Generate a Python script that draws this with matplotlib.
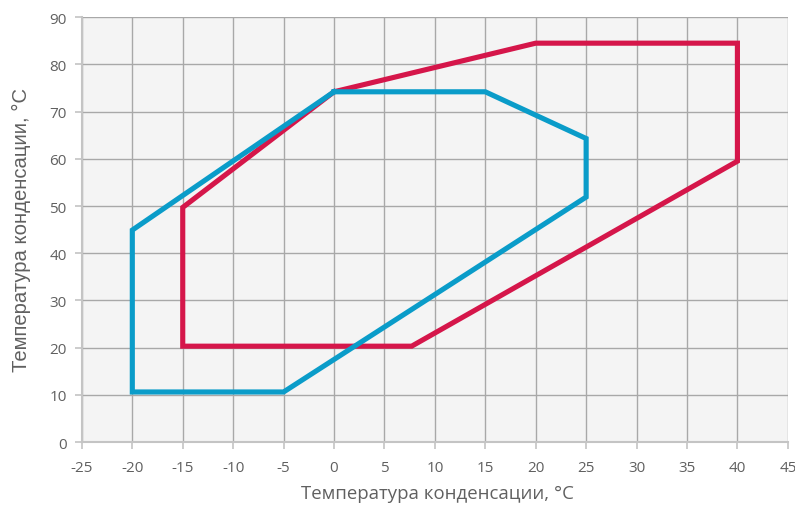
import matplotlib.pyplot as plt

# envelope corners (evaporation vs condensation, °C)
red_x = [0, 20, 40, 40, 7.7, -15, -15, 0]
red_y = [74.2, 84.5, 84.5, 59.5, 20.3, 20.3, 49.7, 74.2]

blue_x = [0, 15, 25, 25, -5, -20, -20, 0]
blue_y = [74.2, 74.2, 64.3, 51.9, 10.6, 10.6, 44.9, 74.2]

x_ticks = list(range(-25, 50, 5))
y_ticks = list(range(0, 100, 10))
axis_label = 'Температура конденсации, °C'

plt.rcParams['font.family'] = ['Open Sans', 'DejaVu Sans']

fig = plt.figure(figsize=(7.95, 5.06), dpi=100)
ax = fig.add_axes([0.103, 0.1245, 0.888, 0.8395])
ax.set_facecolor('#f4f4f4')

ax.plot(red_x, red_y, color='#d5164a', lw=3.7, solid_joinstyle='miter', zorder=3)
ax.plot(blue_x, blue_y, color='#0a9cc9', lw=3.7, solid_joinstyle='miter', zorder=4)

ax.set_xlim(-25, 45)
ax.set_ylim(0, 90)
ax.set_xticks(x_ticks)
ax.set_yticks(y_ticks)
ax.set_xticklabels([str(v) for v in x_ticks])
ax.grid(True, color='#a8a8a8', lw=1.0)
ax.set_axisbelow(True)

for s in ['top', 'right']:
    ax.spines[s].set_visible(False)
for s in ['left', 'bottom']:
    ax.spines[s].set_color('#c4c4c4')
    ax.spines[s].set_linewidth(1.5)

ax.tick_params(colors='#c4c4c4', labelcolor='#606060', labelsize=11, length=5, width=1.2)
ax.tick_params(axis='x', pad=8)
ax.tick_params(axis='y', pad=6)

fig.text(0.027, 0.545, axis_label, rotation=90, ha='center', va='center',
         fontsize=14.6, color='#606060', family=['Liberation Sans', 'DejaVu Sans'])
fig.text(0.55, 0.013, axis_label, ha='center', va='baseline',
         fontsize=13.4, color='#606060')

fig.savefig('out.png', dpi=100)
